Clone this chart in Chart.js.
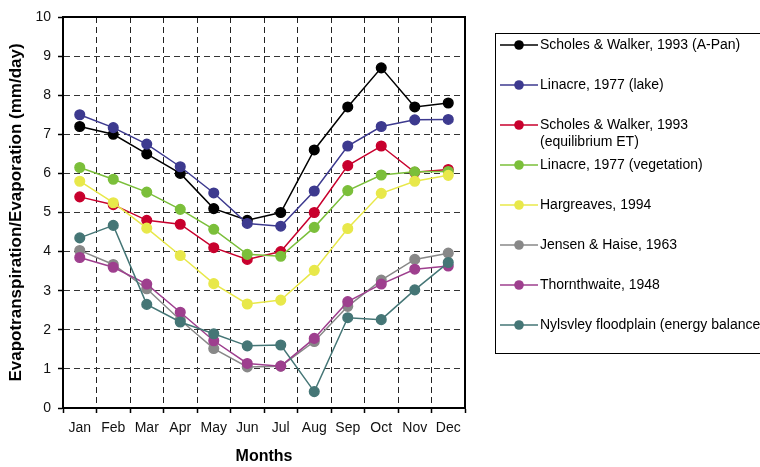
<!DOCTYPE html>
<html>
<head>
<meta charset="utf-8">
<script src="https://cdn.jsdelivr.net/npm/chart.js@4.4.0/dist/chart.umd.min.js"></script>
<style>
  html, body { margin: 0; padding: 0; background: #fff; }
  #wrap { width: 760px; height: 467px; position: relative; }
</style>
</head>
<body>
<div id="wrap"><canvas id="chart" width="760" height="467"></canvas></div>
<script>
var months = ['Jan', 'Feb', 'Mar', 'Apr', 'May', 'Jun', 'Jul', 'Aug', 'Sep', 'Oct', 'Nov', 'Dec'];
var yTicks = [0, 1, 2, 3, 4, 5, 6, 7, 8, 9, 10];

var scholesPan = [7.2, 7.0, 6.5, 6.0, 5.1, 4.8, 5.0, 6.6, 7.7, 8.7, 7.7, 7.8];
var linacreLake = [7.5, 7.17, 6.75, 6.17, 5.5, 4.72, 4.65, 5.55, 6.7, 7.2, 7.37, 7.38];
var scholesEq = [5.4, 5.2, 4.8, 4.7, 4.1, 3.8, 4.0, 5.0, 6.2, 6.7, 6.03, 6.1];
var linacreVeg = [6.15, 5.85, 5.52, 5.08, 4.57, 3.93, 3.88, 4.62, 5.56, 5.96, 6.04, 6.05];
var hargreaves = [5.8, 5.25, 4.6, 3.9, 3.18, 2.66, 2.76, 3.52, 4.59, 5.49, 5.8, 5.95];
var jensenHaise = [4.03, 3.67, 3.05, 2.25, 1.52, 1.05, 1.07, 1.7, 2.6, 3.27, 3.8, 3.96];
var thornthwaite = [3.85, 3.6, 3.17, 2.45, 1.72, 1.14, 1.07, 1.78, 2.72, 3.17, 3.55, 3.63];
var nylsvley = [4.35, 4.67, 2.65, 2.2, 1.9, 1.59, 1.61, 0.42, 2.31, 2.26, 3.02, 3.72];

var seriesNames = [
  'Scholes & Walker, 1993 (A-Pan)',
  'Linacre, 1977 (lake)',
  'Scholes & Walker, 1993\n(equilibrium ET)',
  'Linacre, 1977 (vegetation)',
  'Hargreaves, 1994',
  'Jensen & Haise, 1963',
  'Thornthwaite, 1948',
  'Nylsvley floodplain (energy balance)'
];
var seriesValues = [scholesPan, linacreLake, scholesEq, linacreVeg, hargreaves, jensenHaise, thornthwaite, nylsvley];
var seriesColors = ['#000000', '#3d3a8f', '#c8002d', '#7bbf3a', '#e8e84a', '#888888', '#9e3f8e', '#457676'];

var FONT = 'Liberation Sans, Arial, sans-serif';

// first series drawn on top, like the original
var datasets = seriesNames.map(function(name, i) {
  return {
    label: name,
    data: seriesValues[i],
    borderColor: seriesColors[i],
    backgroundColor: seriesColors[i],
    pointBackgroundColor: seriesColors[i],
    pointBorderColor: seriesColors[i],
    borderWidth: 1.5,
    pointRadius: 4.8,
    pointHoverRadius: 4.8,
    tension: 0,
    fill: false,
    order: seriesNames.length - i
  };
});

// frame on top/right plus the boxed legend at right
var framePlugin = {
  id: 'frame',
  afterDatasetsDraw: function(chart) {
    var ctx = chart.ctx, a = chart.chartArea;
    ctx.save();
    ctx.strokeStyle = '#000';
    ctx.lineWidth = 2;
    ctx.beginPath();
    ctx.moveTo(a.left, a.top);
    ctx.lineTo(a.right, a.top);
    ctx.lineTo(a.right, a.bottom);
    ctx.stroke();
    ctx.restore();
  },
  afterDraw: function(chart) {
    var ctx = chart.ctx;
    ctx.save();
    ctx.strokeStyle = '#000';
    ctx.lineWidth = 1;
    ctx.strokeRect(495.5, 33.5, 300, 320);
    ctx.font = '14px ' + FONT;
    ctx.textBaseline = 'middle';
    ctx.textAlign = 'left';
    chart.data.datasets.forEach(function(ds, i) {
      var y = 45 + i * 40;
      ctx.strokeStyle = ds.borderColor;
      ctx.lineWidth = 1.5;
      ctx.beginPath();
      ctx.moveTo(500, y);
      ctx.lineTo(538, y);
      ctx.stroke();
      ctx.fillStyle = ds.borderColor;
      ctx.beginPath();
      ctx.arc(519, y, 4.8, 0, Math.PI * 2);
      ctx.fill();
      ctx.fillStyle = '#000';
      ds.label.split('\n').forEach(function(line, j) {
        ctx.fillText(line, 540, y + j * 17);
      });
    });
    ctx.restore();
  }
};

new Chart(document.getElementById('chart').getContext('2d'), {
  type: 'line',
  data: {
    labels: months,
    datasets: datasets
  },
  options: {
    responsive: false,
    animation: false,
    events: [],
    layout: {
      padding: { left: 0, top: 17, right: 295, bottom: 0 }
    },
    plugins: {
      legend: { display: false },
      tooltip: { enabled: false }
    },
    scales: {
      x: {
        offset: true,
        afterFit: function(scale) { scale.height = 59; },
        grid: {
          offset: true,
          color: '#222',
          lineWidth: 1,
          drawTicks: true,
          tickLength: 5,
          tickColor: '#000',
          tickWidth: 1.5,
          tickBorderDash: []
        },
        border: { display: true, color: '#000', width: 2, dash: [6, 4] },
        ticks: {
          color: '#111',
          padding: 7,
          maxRotation: 0,
          autoSkip: false,
          font: { family: FONT, size: 14 }
        },
        title: {
          display: true,
          text: 'Months',
          color: '#000',
          padding: { top: 0, bottom: 1 },
          font: { family: FONT, size: 16, weight: 'bold' }
        }
      },
      y: {
        min: 0,
        max: 10,
        afterFit: function(scale) { scale.width = 63; },
        afterBuildTicks: function(scale) {
          scale.ticks = yTicks.map(function(v) { return { value: v }; });
        },
        grid: {
          color: function(c) {
            return (c.tick && (c.tick.value === 0 || c.tick.value === 10)) ? 'rgba(0,0,0,0)' : '#333';
          },
          lineWidth: 1,
          drawTicks: true,
          tickLength: 5,
          tickColor: '#000',
          tickWidth: 1.5,
          tickBorderDash: []
        },
        border: { display: true, color: '#000', width: 2, dash: [6, 4] },
        ticks: {
          color: '#111',
          padding: 7,
          font: { family: FONT, size: 14 }
        },
        title: {
          display: true,
          text: 'Evapotranspiration/Evaporation (mm/day)',
          color: '#000',
          padding: { top: 6, bottom: 0 },
          font: { family: FONT, size: 17, weight: 'bold' }
        }
      }
    }
  },
  plugins: [framePlugin]
});
</script>
</body>
</html>
